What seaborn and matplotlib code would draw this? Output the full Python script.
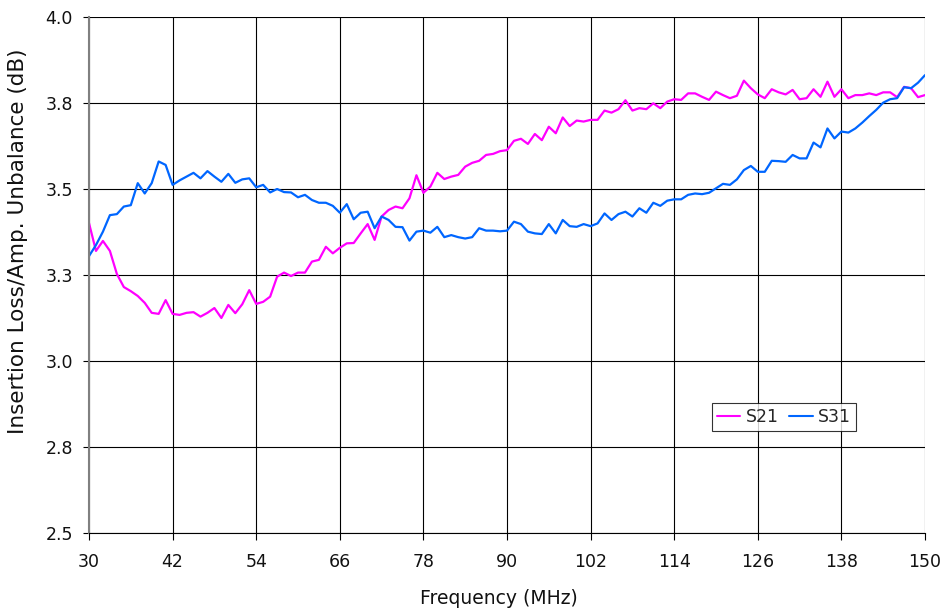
import numpy as np
import pandas as pd
import matplotlib
matplotlib.use("Agg")
import matplotlib.pyplot as plt
from matplotlib.ticker import FuncFormatter
from decimal import Decimal, ROUND_HALF_UP
import seaborn as sns

freq = list(range(30, 151))

s21 = [3.401, 3.320, 3.349, 3.320, 3.253, 3.215, 3.203, 3.189, 3.169, 3.140,
       3.137, 3.177, 3.137, 3.134, 3.140, 3.142, 3.129, 3.140, 3.154, 3.125,
       3.163, 3.139, 3.165, 3.206, 3.166, 3.172, 3.187, 3.245, 3.257, 3.247,
       3.257, 3.257, 3.289, 3.294, 3.332, 3.313, 3.329, 3.342, 3.343, 3.371,
       3.398, 3.352, 3.420, 3.439, 3.449, 3.444, 3.473, 3.540, 3.489, 3.507,
       3.547, 3.529, 3.536, 3.541, 3.565, 3.576, 3.582, 3.599, 3.602, 3.610,
       3.613, 3.640, 3.646, 3.631, 3.660, 3.642, 3.681, 3.662, 3.708, 3.683,
       3.699, 3.696, 3.701, 3.701, 3.728, 3.722, 3.732, 3.758, 3.728, 3.735,
       3.732, 3.749, 3.735, 3.754, 3.761, 3.759, 3.778, 3.778, 3.768, 3.759,
       3.783, 3.773, 3.764, 3.771, 3.815, 3.793, 3.775, 3.764, 3.790, 3.781,
       3.775, 3.788, 3.761, 3.764, 3.790, 3.768, 3.812, 3.768, 3.790, 3.764,
       3.773, 3.773, 3.778, 3.773, 3.781, 3.781, 3.767, 3.797, 3.793, 3.767,
       3.773]

s31 = [3.305, 3.337, 3.376, 3.424, 3.427, 3.449, 3.453, 3.517, 3.487, 3.517,
       3.580, 3.570, 3.512, 3.525, 3.536, 3.547, 3.531, 3.552, 3.536, 3.521,
       3.544, 3.518, 3.528, 3.531, 3.505, 3.512, 3.490, 3.500, 3.491, 3.490,
       3.476, 3.483, 3.468, 3.460, 3.460, 3.451, 3.431, 3.456, 3.412, 3.431,
       3.434, 3.386, 3.420, 3.410, 3.390, 3.389, 3.350, 3.376, 3.379, 3.373,
       3.390, 3.360, 3.366, 3.360, 3.356, 3.360, 3.386, 3.379, 3.379, 3.377,
       3.379, 3.405, 3.398, 3.376, 3.371, 3.369, 3.398, 3.371, 3.410, 3.392,
       3.390, 3.398, 3.392, 3.400, 3.429, 3.410, 3.427, 3.434, 3.420, 3.444,
       3.431, 3.460, 3.451, 3.466, 3.470, 3.470, 3.483, 3.487, 3.485, 3.489,
       3.502, 3.515, 3.512, 3.528, 3.555, 3.567, 3.550, 3.550, 3.582, 3.581,
       3.579, 3.599, 3.589, 3.589, 3.635, 3.621, 3.676, 3.647, 3.667, 3.664,
       3.676, 3.693, 3.712, 3.730, 3.751, 3.761, 3.764, 3.796, 3.793, 3.809,
       3.831]

series_names = ["S21", "S31"]
colors = ["#FF00FF", "#0066FF"]
x_ticks = list(range(30, 151, 12))
y_ticks = [2.5, 2.75, 3.0, 3.25, 3.5, 3.75, 4.0]

df = pd.DataFrame({
    "Frequency": freq * 2,
    "Value": s21 + s31,
    "Series": [series_names[0]] * len(freq) + [series_names[1]] * len(freq),
})

sns.set_theme(style="white")
plt.rcParams["font.family"] = ["DejaVu Sans"]

fig = plt.figure(figsize=(9.46, 6.14), dpi=100)
ax = fig.add_axes([89 / 946, 1 - 533 / 614, 836 / 946, 516 / 614])

sns.lineplot(data=df, x="Frequency", y="Value", hue="Series",
             palette=dict(zip(series_names, colors)), linewidth=1.6, ax=ax)


def one_decimal(v, pos):
    return str(Decimal(str(round(v, 6))).quantize(Decimal("0.1"), rounding=ROUND_HALF_UP))


ax.set_xlim(30, 150)
ax.set_ylim(2.5, 4.0)
ax.set_xticks(x_ticks)
ax.set_yticks(y_ticks)
ax.yaxis.set_major_formatter(FuncFormatter(one_decimal))
ax.grid(True, color="black", linewidth=0.8)
ax.set_axisbelow(True)
for side in ["top", "right"]:
    ax.spines[side].set_visible(False)
ax.spines["left"].set_color("#808080")
ax.spines["left"].set_linewidth(1.5)
ax.spines["bottom"].set_color("black")
ax.spines["bottom"].set_linewidth(0.8)
ax.tick_params(axis="both", which="major", direction="out", width=0.8,
               color="black", labelsize=12.5, labelcolor="#111111",
               bottom=True, left=True)
ax.tick_params(axis="x", length=5, pad=9.5)
ax.tick_params(axis="y", length=4.5, pad=7)
ax.set_xlabel("Frequency (MHz)", fontsize=13.5, color="#111111")
ax.set_ylabel("Insertion Loss/Amp. Unbalance (dB)", fontsize=15.5,
              color="#111111")
ax.xaxis.set_label_coords(0.490, -0.108)
ax.yaxis.set_label_coords(-0.073, 0.566)

leg = ax.legend(loc="lower left", bbox_to_anchor=(0.745, 0.197), ncol=2,
                frameon=True, fancybox=False, fontsize=12.5, handlelength=1.35,
                handletextpad=0.3, columnspacing=0.6, borderpad=0.3,
                borderaxespad=0)
leg.get_frame().set_edgecolor("black")
leg.get_frame().set_linewidth(0.8)
for line in leg.get_lines():
    line.set_linewidth(1.5)

fig.savefig("out.png", dpi=100)
